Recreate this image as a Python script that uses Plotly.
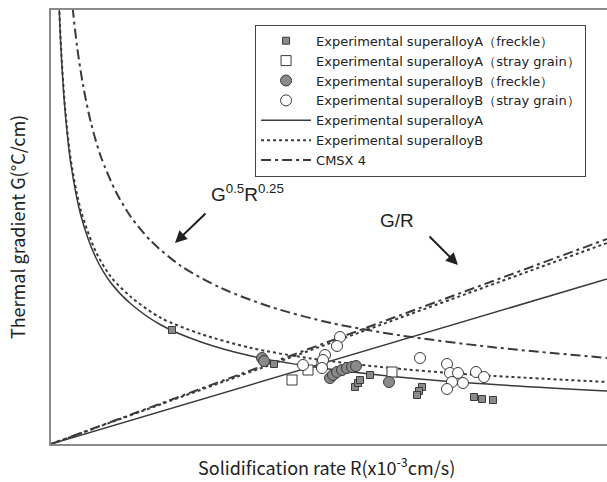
import plotly.graph_objects as go

# ---- data (arbitrary units; axis has no tick labels) ----
# Criterion curves G^0.5 R^0.25 = const
curve_R_A = [6, 8, 10, 14, 20, 30, 45, 60, 80, 110, 150, 200, 260, 330, 420, 556]
curve_G_A = [510, 442, 395, 334, 279, 228, 186, 161, 140, 119, 102, 88, 77.5, 68.8, 61, 53]
curve_R_B = [6, 8, 10, 14, 20, 30, 45, 60, 80, 110, 150, 200, 260, 330, 420, 556]
curve_G_B = [510, 443, 397, 337, 283, 233, 192, 167, 147, 126, 110, 96, 85.5, 77, 69.5, 62]
curve_R_C = [18, 22, 26, 32, 40, 50, 65, 80, 100, 130, 170, 220, 280, 350, 440, 556]
curve_G_C = [478, 433, 398, 359, 321, 287, 252, 227, 203, 178, 156, 137, 121, 108.5, 97, 86]

# G/R criterion lines
line_R = [0, 556]
line_G_A = [0, 165]
line_G_B = [0, 201]
line_G_C = [0, 205]

# Experimental points
A_freckle_R = [121, 223, 304, 307, 309, 319, 371, 368, 366, 423, 431, 442]
A_freckle_G = [114, 80, 57, 61, 64, 69, 57, 53, 49, 47, 45, 44]
A_stray_R = [241, 257, 271, 341]
A_stray_G = [64, 74, 80, 72]
B_freckle_R = [211, 213, 279, 282, 286, 291, 296, 301, 305, 338]
B_freckle_G = [86, 83, 66, 69, 72, 74, 76, 77, 78, 62]
B_stray_R = [289, 286, 274, 272, 252, 271, 369, 396, 399, 407, 401, 396, 412, 425, 433]
B_stray_G = [107, 98, 89, 84, 79, 76, 86, 80, 71, 71, 62, 55, 61, 72, 67]

names = ["Experimental superalloyA（freckle）",
         "Experimental superalloyA（stray grain）",
         "Experimental superalloyB（freckle）",
         "Experimental superalloyB（stray grain）",
         "Experimental superalloyA",
         "Experimental superalloyB",
         "CMSX 4"]

DARK = "#3a3a3a"
GRAY = "#8a8a8a"
DASHDOT = "10px,4px,3px,4px"

fig = go.Figure()

# curves + lines for A (solid)
fig.add_trace(go.Scatter(x=curve_R_A, y=curve_G_A, mode="lines", name=names[4],
                         line=dict(color=DARK, width=1.5, shape="spline", smoothing=0.8),
                         legendgroup="A", legendrank=5))
fig.add_trace(go.Scatter(x=line_R, y=line_G_A, mode="lines", showlegend=False,
                         line=dict(color=DARK, width=1.5), legendgroup="A"))
# B (dotted)
fig.add_trace(go.Scatter(x=curve_R_B, y=curve_G_B, mode="lines", name=names[5],
                         line=dict(color=DARK, width=2, dash="3px,3px", shape="spline", smoothing=0.8),
                         legendgroup="B", legendrank=6))
fig.add_trace(go.Scatter(x=line_R, y=line_G_B, mode="lines", showlegend=False,
                         line=dict(color=DARK, width=2, dash="3px,3px"), legendgroup="B"))
# CMSX 4 (dash-dot)
fig.add_trace(go.Scatter(x=curve_R_C, y=curve_G_C, mode="lines", name=names[6],
                         line=dict(color=DARK, width=2, dash=DASHDOT, shape="spline", smoothing=0.8),
                         legendgroup="C", legendrank=7))
fig.add_trace(go.Scatter(x=line_R, y=line_G_C, mode="lines", showlegend=False,
                         line=dict(color=DARK, width=2, dash=DASHDOT), legendgroup="C"))

fig.add_trace(go.Scatter(x=A_freckle_R, y=A_freckle_G, mode="markers", name=names[0], legendrank=1,
                         marker=dict(symbol="square", size=7, color=GRAY,
                                     line=dict(color=DARK, width=1))))
fig.add_trace(go.Scatter(x=A_stray_R, y=A_stray_G, mode="markers", name=names[1], legendrank=2,
                         marker=dict(symbol="square", size=10, color="white",
                                     line=dict(color=DARK, width=1))))
fig.add_trace(go.Scatter(x=B_freckle_R, y=B_freckle_G, mode="markers", name=names[2], legendrank=3,
                         marker=dict(symbol="circle", size=11, color=GRAY,
                                     line=dict(color=DARK, width=1))))
fig.add_trace(go.Scatter(x=B_stray_R, y=B_stray_G, mode="markers", name=names[3], legendrank=4,
                         marker=dict(symbol="circle", size=11, color="white",
                                     line=dict(color=DARK, width=1))))

fig.update_layout(
    width=607, height=482,
    margin=dict(l=51, r=0, t=10, b=38),
    paper_bgcolor="white", plot_bgcolor="white",
    showlegend=True,
    legend=dict(x=0.367, y=0.966, xanchor="left", yanchor="top",
                bgcolor="white", bordercolor="#444", borderwidth=1,
                font=dict(family="DejaVu Sans", size=13, color="#222"),
                traceorder="normal", itemwidth=50, tracegroupgap=0),
    xaxis=dict(range=[0, 556], showgrid=False, zeroline=False, showticklabels=False,
               ticks="", showline=True, linecolor=GRAY, linewidth=2, mirror=True),
    yaxis=dict(range=[0, 434], showgrid=False, zeroline=False, showticklabels=False,
               ticks="", showline=True, linecolor=GRAY, linewidth=2),
)

fig.add_annotation(text="Thermal gradient G(°C/cm)", xref="paper", yref="paper",
                   x=-0.061, y=0.5, textangle=-90, showarrow=False,
                   xanchor="center", yanchor="middle",
                   font=dict(family="Noto Sans CJK JP", size=18, color="#222"))
fig.add_annotation(text="Solidification rate R(x10<sup>-3</sup>cm/s)", xref="paper", yref="paper",
                   x=0.495, y=-0.05, showarrow=False, xanchor="center", yanchor="middle",
                   font=dict(family="Noto Sans CJK JP", size=18, color="#222"))

fig.add_annotation(text="G<sup>0.5</sup>R<sup>0.25</sup>", x=196, y=251, xref="x", yref="y",
                   showarrow=False, font=dict(family="Liberation Sans", size=19, color="#222"))
fig.add_annotation(text="G/R", x=346, y=224, xref="x", yref="y",
                   showarrow=False, font=dict(family="Liberation Sans", size=19, color="#222"))
fig.add_annotation(x=124, y=201, ax=156, ay=232, xref="x", yref="y", axref="x", ayref="y",
                   text="", showarrow=True, arrowhead=2, arrowsize=1.2, arrowwidth=2, arrowcolor="#222")
fig.add_annotation(x=407, y=179, ax=377, ay=209, xref="x", yref="y", axref="x", ayref="y",
                   text="", showarrow=True, arrowhead=2, arrowsize=1.2, arrowwidth=2, arrowcolor="#222")

fig.write_html("out.html")
